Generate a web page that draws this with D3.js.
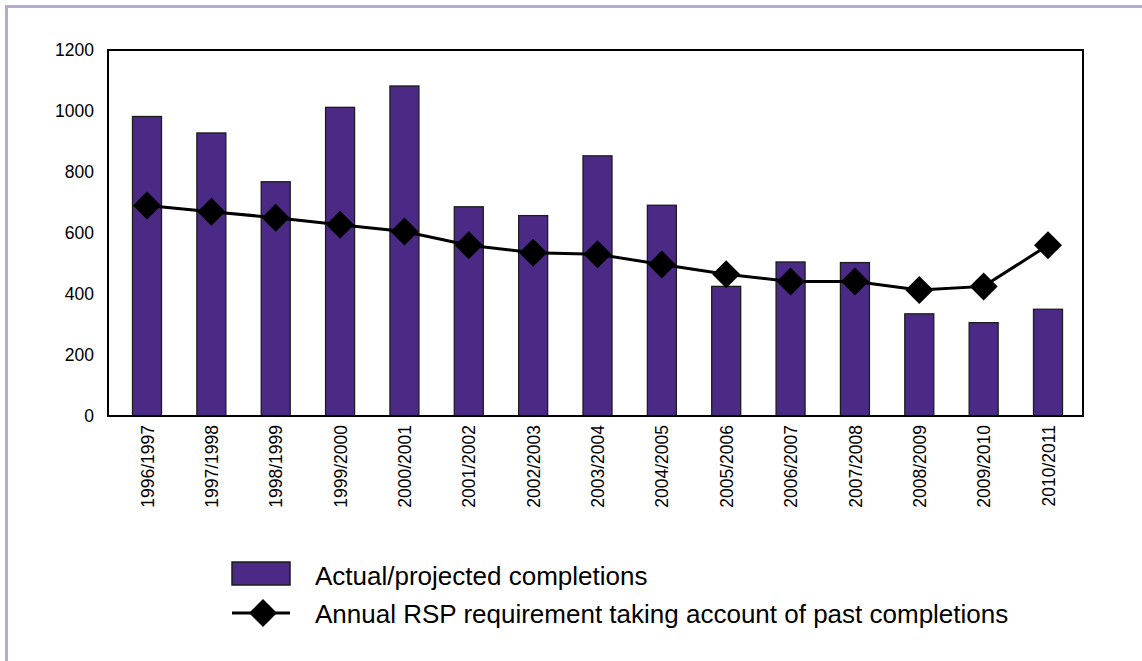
<!DOCTYPE html>
<html>
<head>
<meta charset="utf-8">
<script src="https://cdn.jsdelivr.net/npm/d3@7"></script>
<style>
  body { margin: 0; background: #fff; }
  text { font-family: "Liberation Sans", Arial, sans-serif; fill: #000; }
</style>
</head>
<body>
<div id="chart"></div>
<script>
const years = ["1996/1997", "1997/1998", "1998/1999", "1999/2000", "2000/2001",
  "2001/2002", "2002/2003", "2003/2004", "2004/2005", "2005/2006",
  "2006/2007", "2007/2008", "2008/2009", "2009/2010", "2010/2011"];
const completions = [982, 928, 768, 1012, 1082, 686, 657, 853, 691, 425, 505, 503, 335, 306, 350];
const requirement = [690, 670, 650, 627, 605, 560, 535, 530, 497, 465, 441, 441, 413, 425, 560];
const yTicks = [0, 200, 400, 600, 800, 1000, 1200];
const legendLabels = ["Actual/projected completions",
  "Annual RSP requirement taking account of past completions"];

const width = 1142, height = 661;
const plot = { left: 108, right: 1083, top: 50, bottom: 416 };

const svg = d3.select("#chart").append("svg")
  .attr("width", width).attr("height", height);

// light purple page border (left and top only visible)
svg.append("rect")
  .attr("x", 6.5).attr("y", 6.5)
  .attr("width", width + 20).attr("height", height + 20)
  .attr("fill", "none").attr("stroke", "#b7a8d4").attr("stroke-width", 3);

const x = d3.scalePoint().domain(years).range([147, 1048]);
const y = d3.scaleLinear().domain([0, 1200]).range([plot.bottom, plot.top]);
const barW = 29;

// bars
svg.selectAll("rect.bar")
  .data(years)
  .enter().append("rect")
  .attr("class", "bar")
  .attr("x", (d) => x(d) - barW / 2)
  .attr("y", (d, i) => y(completions[i]))
  .attr("width", barW)
  .attr("height", (d, i) => y(0) - y(completions[i]))
  .attr("fill", "#4b2a85")
  .attr("stroke", "#1c1c1c")
  .attr("stroke-width", 1.3);

// plot frame
svg.append("rect")
  .attr("x", plot.left).attr("y", plot.top)
  .attr("width", plot.right - plot.left).attr("height", plot.bottom - plot.top)
  .attr("fill", "none").attr("stroke", "#000").attr("stroke-width", 2);

// requirement line
const line = d3.line()
  .x((d, i) => x(years[i]))
  .y((d) => y(d));
svg.append("path")
  .datum(requirement)
  .attr("d", line)
  .attr("fill", "none").attr("stroke", "#000").attr("stroke-width", 3);

const diamond = (cx, cy, r) =>
  `M${cx},${cy - r}L${cx + r},${cy}L${cx},${cy + r}L${cx - r},${cy}Z`;

svg.selectAll("path.marker")
  .data(requirement)
  .enter().append("path")
  .attr("class", "marker")
  .attr("d", (d, i) => diamond(x(years[i]), y(d), 14))
  .attr("fill", "#000");

// y axis labels
const yAxis = d3.axisLeft(y).tickValues(yTicks).tickFormat(d3.format("d"))
  .tickSize(0).tickPadding(14);
svg.append("g")
  .attr("transform", `translate(${plot.left},0)`)
  .call(yAxis)
  .call((g) => g.select(".domain").remove())
  .selectAll("text")
  .attr("font-size", 17.5)
  .attr("font-family", "Liberation Sans, Arial, sans-serif")
  .attr("fill", "#000");

// x axis labels (rotated)
const xAxis = d3.axisBottom(x).tickSize(0).tickPadding(0);
svg.append("g")
  .attr("transform", `translate(0,${plot.bottom})`)
  .call(xAxis)
  .call((g) => g.select(".domain").remove())
  .selectAll("text")
  .attr("font-size", 17.5)
  .attr("font-family", "Liberation Sans, Arial, sans-serif")
  .attr("fill", "#000")
  .attr("text-anchor", "end")
  .attr("dy", "0.35em")
  .attr("transform", "translate(0,9) rotate(-90)")
  .attr("x", 0).attr("y", 0);

// legend
const lg = svg.append("g");
lg.append("rect")
  .attr("x", 232).attr("y", 562).attr("width", 58).attr("height", 23)
  .attr("fill", "#4b2a85").attr("stroke", "#1c1c1c").attr("stroke-width", 1.5);
lg.append("line")
  .attr("x1", 232).attr("x2", 290).attr("y1", 613).attr("y2", 613)
  .attr("stroke", "#000").attr("stroke-width", 3);
lg.append("path").attr("d", diamond(263, 613, 14)).attr("fill", "#000");
lg.selectAll("text.leg")
  .data(legendLabels)
  .enter().append("text")
  .attr("class", "leg")
  .attr("x", 315)
  .attr("y", (d, i) => 585 + i * 38)
  .attr("font-size", 26)
  .text((d) => d);
</script>
</body>
</html>
